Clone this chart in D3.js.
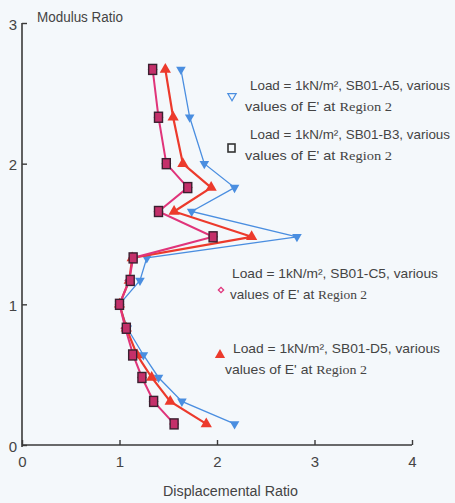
<!DOCTYPE html>
<html><head><meta charset="utf-8">
<script src="https://cdn.jsdelivr.net/npm/d3@7"></script>
<style>
html,body{margin:0;padding:0;background:#f4f8fb;}
svg{display:block;}
</style></head>
<body>
<svg id="chart" width="455" height="503"></svg>
<script>
const modulusRatio = [0.15, 0.31, 0.48, 0.64, 0.83, 1.0, 1.17, 1.33, 1.48, 1.66, 1.83, 2.0, 2.33, 2.67];
const dispA5 = [2.18, 1.64, 1.40, 1.245, 1.08, 1.0, 1.21, 1.28, 2.82, 1.74, 2.18, 1.87, 1.72, 1.63];
const dispB3 = [1.56, 1.35, 1.23, 1.135, 1.07, 1.0, 1.11, 1.14, 1.96, 1.40, 1.70, 1.48, 1.40, 1.34];
const dispC5 = [1.56, 1.35, 1.23, 1.14, 1.06, 1.0, 1.10, 1.14, 1.96, 1.40, 1.70, 1.48, 1.40, 1.34];
const dispD5 = [1.89, 1.52, 1.33, 1.18, 1.07, 1.0, 1.10, 1.13, 2.355, 1.56, 1.94, 1.65, 1.55, 1.47];
const xTicks = [0, 1, 2, 3, 4];
const yTicks = [0, 1, 2, 3];
const legendLine1 = ["Load = 1kN/m\u00B2, SB01-A5, various", "Load = 1kN/m\u00B2, SB01-B3, various", "Load = 1kN/m\u00B2, SB01-C5, various", "Load = 1kN/m\u00B2, SB01-D5, various"];
const legendLine2a = "values of E' at ";
const legendLine2b = "Region 2";

const svg = d3.select("#chart");
const x = d3.scaleLinear().domain([0, 4]).range([22, 412]);
const y = d3.scaleLinear().domain([0, 3]).range([445, 23]);
const axisColor = "#3a3a3a";
const font = "'Liberation Sans', Arial, sans-serif";

// axes
const gx = svg.append("g").attr("transform", `translate(0,${y(0)})`)
  .call(d3.axisBottom(x).tickValues(xTicks).tickFormat(d3.format("d")).tickSizeInner(-5).tickSizeOuter(0).tickPadding(11));
const gy = svg.append("g").attr("transform", `translate(${x(0)},0)`)
  .call(d3.axisLeft(y).tickValues(yTicks).tickFormat(d3.format("d")).tickSizeInner(-5).tickSizeOuter(0).tickPadding(5));
[gx, gy].forEach(g => {
  g.select(".domain").attr("stroke", axisColor).attr("stroke-width", 1.6);
  g.selectAll(".tick line").attr("stroke", axisColor).attr("stroke-width", 1.4);
  g.selectAll(".tick text").attr("fill", "#444").attr("font-family", font).attr("font-size", 15);
});
gx.select(".domain").attr("d", `M${x(0)},0H${x(4)}`);
gy.select(".domain").attr("d", `M0,${y(0)+2}V${y(3)}`);
gy.selectAll(".tick text").attr("dy", "0.4em");

svg.append("text").attr("x", 163).attr("y", 496)
  .attr("font-family", font).attr("font-size", 14).attr("fill", "#444")
  .attr("textLength", 135).attr("lengthAdjust", "spacingAndGlyphs")
  .text("Displacemental Ratio");
svg.append("text").attr("x", 37).attr("y", 22)
  .attr("font-family", font).attr("font-size", 14).attr("fill", "#444")
  .attr("textLength", 86).attr("lengthAdjust", "spacingAndGlyphs")
  .text("Modulus Ratio");

function pts(arr) { return arr.map((d, i) => [x(d), y(modulusRatio[i])]); }
const line = d3.line();

const colA = "#4a8ee0", colC = "#e0347a", colD = "#ec3a2c";

// A5 blue
svg.append("path").attr("d", line(pts(dispA5))).attr("fill", "none").attr("stroke", colA).attr("stroke-width", 1.3);
svg.append("g").selectAll("path").data(pts(dispA5)).join("path")
  .attr("transform", d => `translate(${d[0]},${d[1]}) rotate(180)`)
  .attr("d", d3.symbol(d3.symbolTriangle, 40)).attr("fill", colA);

// D5 red
svg.append("path").attr("d", line(pts(dispD5))).attr("fill", "none").attr("stroke", colD).attr("stroke-width", 2.2);
svg.append("g").selectAll("path").data(pts(dispD5)).join("path")
  .attr("transform", d => `translate(${d[0]},${d[1]})`)
  .attr("d", d3.symbol(d3.symbolTriangle, 55)).attr("fill", colD);

// C5 magenta
svg.append("path").attr("d", line(pts(dispC5))).attr("fill", "none").attr("stroke", colC).attr("stroke-width", 2);
svg.append("g").selectAll("path").data(pts(dispC5)).join("path")
  .attr("transform", d => `translate(${d[0]},${d[1]}) rotate(45)`)
  .attr("d", d3.symbol(d3.symbolSquare, 50)).attr("fill", "#d8306e");

// B3 squares
svg.append("g").selectAll("rect").data(pts(dispB3)).join("rect")
  .attr("x", d => d[0] - 4).attr("y", d => d[1] - 5).attr("width", 8).attr("height", 10)
  .attr("fill", "#c4306a").attr("stroke", "#3a2030").attr("stroke-width", 1.4);

// legend
const legY = [85, 134, 273, 348];
const legX1 = [250, 250, 232, 233];
const legW1 = [200, 200, 206, 207];
const legX2 = [245, 245, 230, 225];
const legW2 = [147, 147, 137, 142];
legY.forEach((ly, i) => {
  svg.append("text").attr("x", legX1[i]).attr("y", ly + 5)
    .attr("font-family", font).attr("font-size", 13).attr("fill", "#444")
    .attr("textLength", legW1[i]).attr("lengthAdjust", "spacingAndGlyphs")
    .text(legendLine1[i]);
  const t = svg.append("text").attr("x", legX2[i]).attr("y", ly + 26)
    .attr("font-family", font).attr("font-size", 13.5).attr("fill", "#444")
    .attr("textLength", legW2[i]).attr("lengthAdjust", "spacingAndGlyphs");
  t.append("tspan").text(legendLine2a);
  t.append("tspan").attr("font-family", "'Liberation Serif', 'Times New Roman', serif").text(legendLine2b);
});
// legend markers
svg.append("path").attr("transform", "translate(232,96) rotate(180)")
  .attr("d", d3.symbol(d3.symbolTriangle, 30)).attr("fill", "none").attr("stroke", colA).attr("stroke-width", 1.2);
svg.append("rect").attr("x", 228).attr("y", 144).attr("width", 7).attr("height", 8)
  .attr("fill", "none").attr("stroke", "#333").attr("stroke-width", 1.6);
svg.append("path").attr("transform", "translate(221,290) rotate(45)")
  .attr("d", d3.symbol(d3.symbolSquare, 14)).attr("fill", "none").attr("stroke", colC).attr("stroke-width", 1.3);
svg.append("path").attr("transform", "translate(220,355)")
  .attr("d", d3.symbol(d3.symbolTriangle, 45)).attr("fill", colD);
</script>
</body></html>
